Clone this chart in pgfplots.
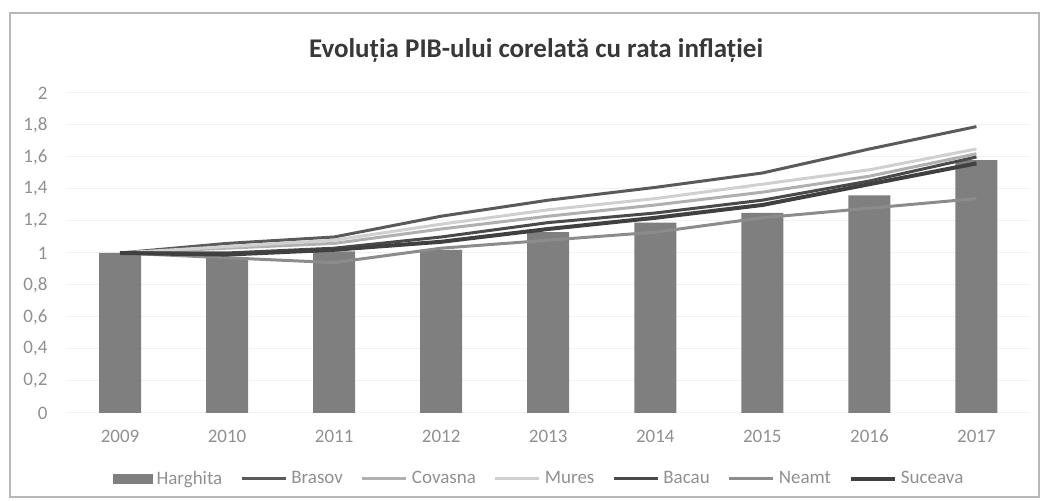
\documentclass[border=0pt]{standalone}
\usepackage{pgfplots}
\pgfplotsset{compat=1.18}
\usepackage{fontspec}
\setmainfont{Carlito}

\definecolor{barc}{HTML}{7F7F7F}
\definecolor{brasov}{HTML}{5A5A5A}
\definecolor{covasna}{HTML}{B0B0B0}
\definecolor{mures}{HTML}{D0D0D0}
\definecolor{bacau}{HTML}{4A4A4A}
\definecolor{neamt}{HTML}{8C8C8C}
\definecolor{suceava}{HTML}{404040}
\definecolor{txt}{HTML}{909090}

\begin{document}
\begin{tikzpicture}
% 1 px of the reference = 0.5pt
\path[use as bounding box] (0,0) rectangle (520.5pt,250.5pt);
\draw[color=black!28, line width=0.6pt] (5pt,2pt) rectangle (519.5pt,244pt);
\node[font=\fontsize{13.5}{15}\selectfont\bfseries, text=black!78] at (268pt,225pt)
  {Evoluția PIB-ului corelată cu rata inflației};

\begin{axis}[
  at={(33.25pt,44pt)}, anchor=south west,
  scale only axis, width=481.75pt, height=160pt,
  xmin=-0.5, xmax=8.5, ymin=0, ymax=2,
  axis line style={draw=none},
  major tick length=0pt,
  ymajorgrids, grid style={color=black!5, line width=0.5pt},
  ytick={0,0.2,0.4,0.6,0.8,1,1.2,1.4,1.6,1.8,2},
  xtick={0,1,2,3,4,5,6,7,8},
  xticklabels={2009,2010,2011,2012,2013,2014,2015,2016,2017},
  /pgf/number format/.cd, use comma, assume math mode=true, /pgfplots/.cd,
  tick label style={font=\fontsize{9.5}{10}\selectfont, text=txt},
  yticklabel style={xshift=-6pt},
  xticklabel style={yshift=-5pt},
  legend columns=7,
  legend style={at={(0.4914,-0.206)}, anchor=center, draw=none, fill=none,
    font=\fontsize{9.5}{10}\selectfont, text=txt,
    /tikz/every even column/.append style={column sep=7pt}},
  legend image code/.code={\draw[#1] (0pt,0pt) -- (22pt,0pt);},
]
\addplot[ybar, bar width=21pt, fill=barc, draw=none, bar shift=0pt,
  area legend, legend image code/.code={\fill[barc] (0pt,-2.5pt) rectangle (20pt,2.5pt);}]
  coordinates {(0,1.00) (1,0.97) (2,1.01) (3,1.02) (4,1.13) (5,1.19) (6,1.25) (7,1.36) (8,1.58)};
\addlegendentry{Harghita}
\addplot[brasov, line width=1.5pt] coordinates
  {(0,1.00) (1,1.06) (2,1.10) (3,1.23) (4,1.33) (5,1.41) (6,1.50) (7,1.65) (8,1.79)};
\addlegendentry{Brasov}
\addplot[covasna, line width=1.5pt] coordinates
  {(0,1.00) (1,1.03) (2,1.06) (3,1.15) (4,1.23) (5,1.30) (6,1.38) (7,1.48) (8,1.62)};
\addlegendentry{Covasna}
\addplot[mures, line width=1.5pt] coordinates
  {(0,1.00) (1,1.04) (2,1.08) (3,1.18) (4,1.27) (5,1.34) (6,1.43) (7,1.52) (8,1.65)};
\addlegendentry{Mures}
\addplot[bacau, line width=1.5pt] coordinates
  {(0,1.00) (1,1.00) (2,1.03) (3,1.10) (4,1.19) (5,1.25) (6,1.33) (7,1.45) (8,1.60)};
\addlegendentry{Bacau}
\addplot[neamt, line width=1.5pt] coordinates
  {(0,1.00) (1,0.97) (2,0.94) (3,1.03) (4,1.08) (5,1.13) (6,1.22) (7,1.28) (8,1.34)};
\addlegendentry{Neamt}
\addplot[suceava, line width=2pt] coordinates
  {(0,1.00) (1,0.99) (2,1.02) (3,1.07) (4,1.15) (5,1.22) (6,1.30) (7,1.43) (8,1.56)};
\addlegendentry{Suceava}
\end{axis}
\end{tikzpicture}
\end{document}
